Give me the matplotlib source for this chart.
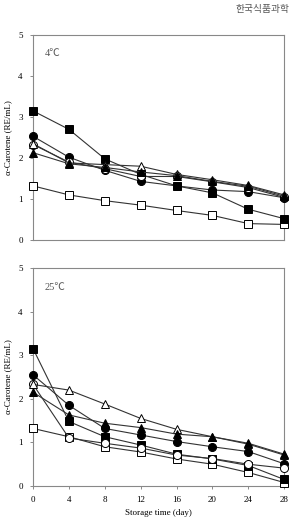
import matplotlib
matplotlib.use("Agg")
import matplotlib.pyplot as plt

days = [0, 4, 8, 12, 16, 20, 24, 28]

# 4 °C
c4_fsq = [3.15, 2.70, 1.98, 1.60, 1.32, 1.15, 0.75, 0.52]
c4_osq = [1.32, 1.10, 0.96, 0.85, 0.72, 0.60, 0.40, 0.38]
c4_fci = [2.53, 2.02, 1.70, 1.43, 1.32, 1.22, 1.18, 1.03]
c4_oci = [2.33, 1.90, 1.74, 1.55, 1.55, 1.42, 1.28, 1.04]
c4_ftr = [2.13, 1.86, 1.77, 1.66, 1.57, 1.43, 1.31, 1.07]
c4_otr = [2.35, 1.88, 1.84, 1.80, 1.60, 1.47, 1.33, 1.10]

# 25 °C
c25_fsq = [3.15, 1.48, 1.13, 0.94, 0.73, 0.62, 0.47, 0.15]
c25_osq = [1.32, 1.13, 0.90, 0.78, 0.62, 0.50, 0.31, 0.08]
c25_fci = [2.55, 1.85, 1.32, 1.17, 1.02, 0.90, 0.79, 0.51]
c25_oci = [2.33, 1.10, 0.98, 0.87, 0.71, 0.63, 0.50, 0.41]
c25_ftr = [2.15, 1.63, 1.44, 1.34, 1.19, 1.13, 0.98, 0.73]
c25_otr = [2.33, 2.20, 1.88, 1.55, 1.30, 1.13, 0.96, 0.71]

plt.rcParams["font.family"] = ["Liberation Serif", "Noto Sans CJK KR"]

fig = plt.figure(figsize=(2.9, 5.24), dpi=100)
ax1 = fig.add_axes([0.114, 0.542, 0.866, 0.391])
ax2 = fig.add_axes([0.114, 0.0725, 0.866, 0.416])

fig.text(0.997, 0.992, "한국식품과학", fontsize=7, color="#555555",
         family=["Noto Sans CJK KR"], va="top", ha="right")


def panel(ax, series, label, xticks):
    for y, m, fill in series:
        ax.plot(days, y, "-", color="#333333", lw=0.8, marker=m, ms=5.8,
                mfc="black" if fill else "white", mec="black", mew=0.7,
                clip_on=False, zorder=3)
    ax.set_xlim(0, 28)
    ax.set_ylim(0, 5)
    ax.set_yticks([0, 1, 2, 3, 4, 5])
    ax.set_xticks(days)
    ax.tick_params(labelsize=6.5, length=2.5, width=0.6, color="#777777",
                   pad=5)
    if not xticks:
        ax.tick_params(axis="x", bottom=False, labelbottom=False)
    for s in ax.spines.values():
        s.set_color("#888888")
        s.set_linewidth(0.8)
    ax.set_ylabel("α-Carotene (RE/mL)", fontsize=6.5, labelpad=4)
    ax.text(0.045, 0.93, label, transform=ax.transAxes, fontsize=7.5,
            color="#555555", va="top")


panel(ax1, [(c4_osq, "s", False), (c4_fsq, "s", True), (c4_fci, "o", True),
            (c4_oci, "o", False), (c4_otr, "^", False), (c4_ftr, "^", True)],
      "4℃", False)
panel(ax2, [(c25_osq, "s", False), (c25_fsq, "s", True), (c25_fci, "o", True),
            (c25_oci, "o", False), (c25_otr, "^", False), (c25_ftr, "^", True)],
      "25℃", True)
ax2.set_xlabel("Storage time (day)", fontsize=6.5, labelpad=3)

fig.savefig("out.png", dpi=100)
